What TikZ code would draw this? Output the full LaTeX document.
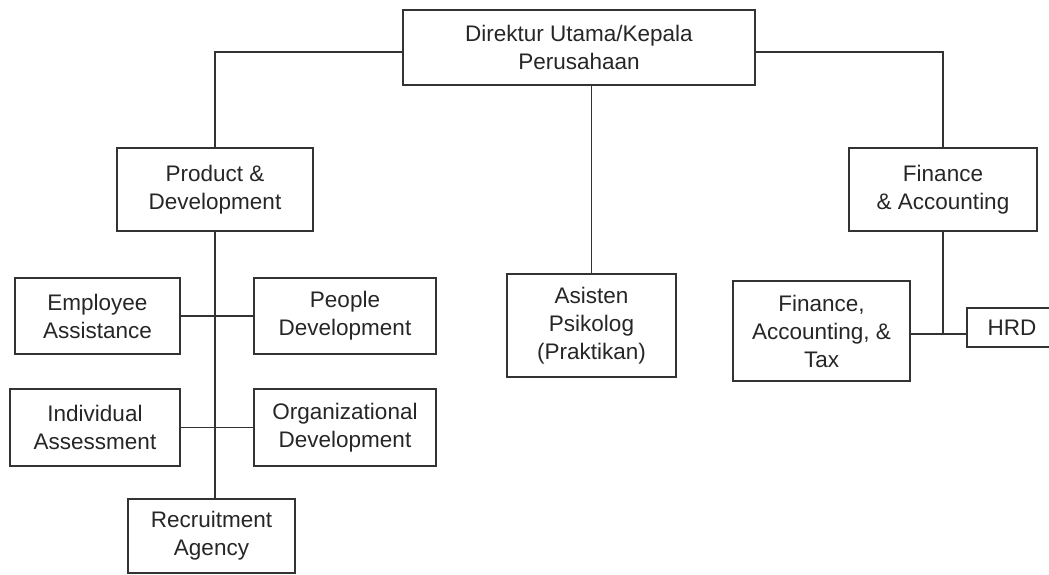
\documentclass[tikz,border=0pt]{standalone}
\usepackage{fontspec}
\setmainfont{Liberation Sans}
\tikzset{
  orgnode/.style = {align=center, inner sep=0pt, text centered,
    font=\fontsize{22.5}{28}\selectfont, text=black!85},
  org_box/.style = {orgnode, rectangle, draw=black!80, line width=1.4pt},% kotak jabatan
  org_line/.style = {draw=black!80, line width=1.4pt}% garis penghubung
}
\begin{document}
\begin{tikzpicture}[x=1pt,y=-1pt]
\useasboundingbox (0,0) rectangle (1049,575);
\node [org_box, minimum width=352, minimum height=75] (dir) at (579,47.5) {Direktur Utama/Kepala\\Perusahaan};
\node [org_box, minimum width=196, minimum height=83] (pd) at (215,189.5) {Product \&\\Development};
\node [org_box, minimum width=188, minimum height=83] (fa) at (943,189.5) {Finance\\\& Accounting};
\node [org_box, minimum width=169, minimum height=103] (as) at (591.5,325.5) {Asisten\\Psikolog\\(Praktikan)};
\node [org_box, minimum width=165, minimum height=76] (ea) at (97.5,316) {Employee\\Assistance};
\node [org_box, minimum width=182, minimum height=76] (pe) at (345,316) {People\\Development};
\node [org_box, minimum width=170, minimum height=77] (ia) at (95,427.5) {Individual\\Assessment};
\node [org_box, minimum width=182, minimum height=77] (od) at (345,427.5) {Organizational\\Development};
\node [org_box, minimum width=167, minimum height=74] (ra) at (211.5,536) {Recruitment\\Agency};
\node [org_box, minimum width=177, minimum height=100] (fat) at (821.5,331) {Finance,\\Accounting, \&\\Tax};
\node [org_box, minimum width=90, minimum height=39] (hrd) at (1012,327.5) {HRD};
\coordinate (jf) at (943,334);
% garis
\draw [org_line] ([yshift=-4.5pt]dir.west) -| (pd.north);
\draw [org_line] ([yshift=-4.5pt]dir.east) -| (fa.north);
\draw [org_line] (dir.south -| as.north) -- (as.north);
\draw [org_line] (pd.south) -- (pd.south |- ra.north);
\draw [org_line] (ea.east) -- (pe.west);
\draw [org_line] (ia.east) -- (od.west);
\draw [org_line] (fa.south) -- (jf);
\draw [org_line] (fat.east |- jf) -- (hrd.west |- jf);
\end{tikzpicture}
\end{document}
